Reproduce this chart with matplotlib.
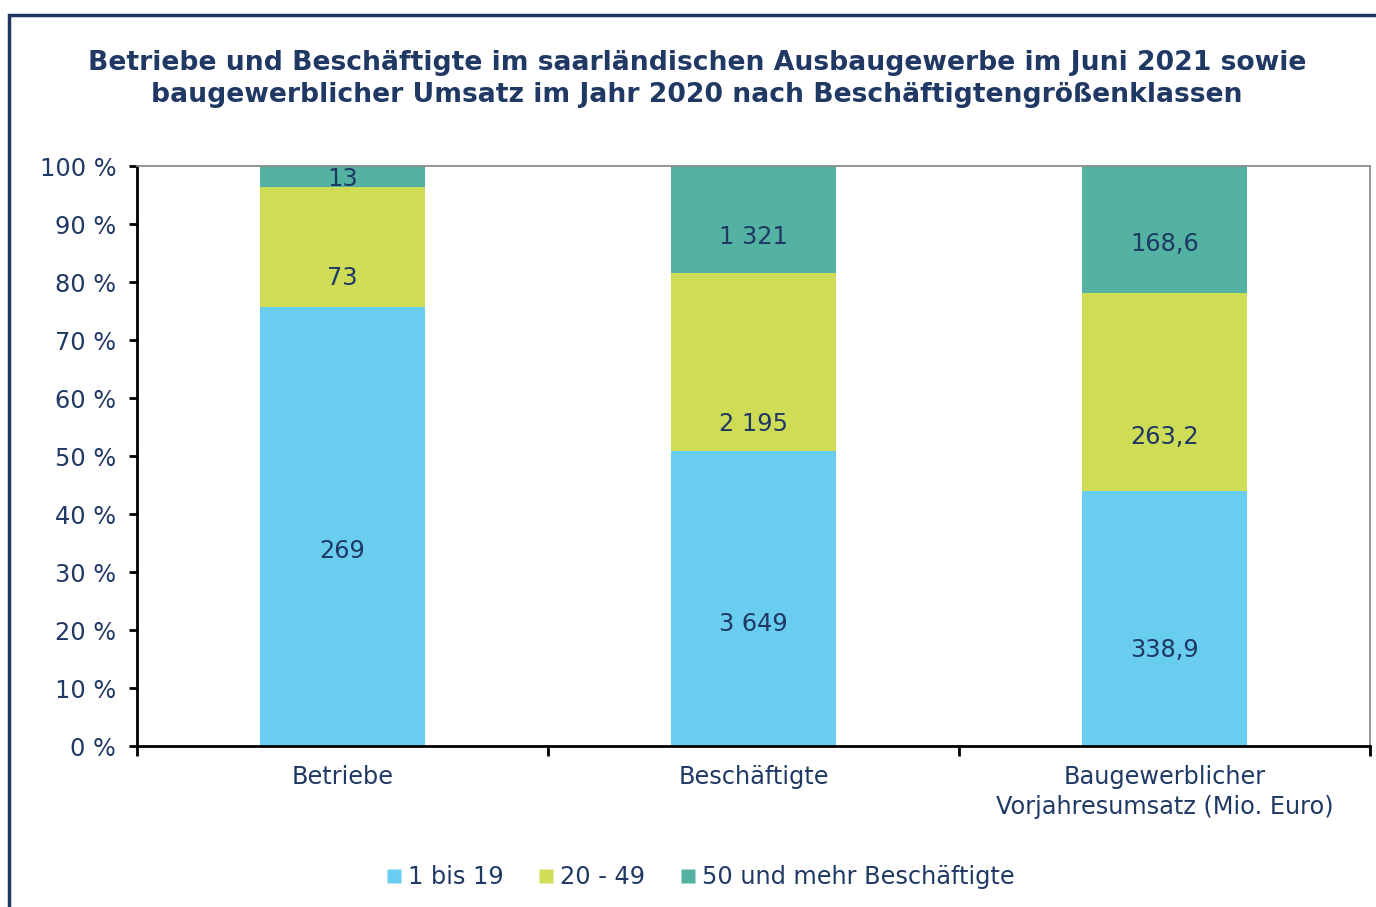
import matplotlib.pyplot as plt
import numpy as np
from matplotlib.lines import Line2D
from matplotlib.patches import Rectangle

categories = ['Betriebe', 'Beschäftigte', 'Baugewerblicher\nVorjahresumsatz (Mio. Euro)']
series_names = ['1 bis 19', '20 - 49', '50 und mehr Beschäftigte']
klein = [269, 3649, 338.9]
mittel = [73, 2195, 263.2]
gross = [13, 1321, 168.6]
value_labels = [['269', '3 649', '338,9'],
                ['73', '2 195', '263,2'],
                ['13', '1 321', '168,6']]

# label heights in % as placed in the original chart
label_y = [[33.6, 21.1, 16.6],
           [80.7, 55.5, 53.3],
           [97.8, 87.8, 86.6]]

colors = ['#69CDF0', '#CEDC56', '#53B2A1']
navy = '#1F3864'
fs = 17.3

plt.rcParams['font.family'] = ['DejaVu Sans']

fig = plt.figure(figsize=(13.76, 9.07), dpi=100)
ax = fig.add_axes([137 / 1376, 1 - 746 / 907, (1370 - 137) / 1376, (746 - 166) / 907])

data = np.array([klein, mittel, gross], dtype=float)
shares = data / data.sum(axis=0) * 100
x = np.arange(len(categories))
bottom = np.zeros(len(categories))
for i in range(3):
    ax.bar(x, shares[i], 0.4, bottom=bottom, color=colors[i], edgecolor='none', zorder=2)
    for j in range(len(categories)):
        ax.text(x[j], label_y[i][j], value_labels[i][j], ha='center', va='center',
                fontsize=fs, color=navy, zorder=3)
    bottom += shares[i]

ax.set_xlim(-0.5, len(categories) - 0.5)
ax.set_ylim(0, 100)
ax.set_yticks(np.arange(0, 101, 10))
ax.set_yticklabels([f'{v} %' for v in range(0, 101, 10)], fontsize=fs, color=navy)
ax.set_xticks(np.arange(-0.5, len(categories), 1))
ax.set_xticklabels([])
ax.tick_params(axis='y', length=6, width=2, direction='out', pad=9)
ax.tick_params(axis='x', length=7, width=2, direction='out')
for j, c in enumerate(categories):
    ax.text(x[j], -3.3, c, ha='center', va='top', fontsize=fs, color=navy,
            linespacing=1.3)

for s in ['left', 'bottom']:
    ax.spines[s].set_linewidth(2)
    ax.spines[s].set_color('black')
for s in ['top', 'right']:
    ax.spines[s].set_linewidth(1.3)
    ax.spines[s].set_color('#8c8c8c')

fig.text(697 / 1376, 1 - 79 / 907,
         'Betriebe und Beschäftigte im saarländischen Ausbaugewerbe im Juni 2021 sowie\n'
         'baugewerblicher Umsatz im Jahr 2020 nach Beschäftigtengrößenklassen',
         ha='center', va='center', fontsize=19.2, fontweight='bold', color=navy,
         linespacing=1.3)

handles = [Line2D([], [], marker='s', linestyle='none', markersize=9.5,
                  markerfacecolor=c, markeredgecolor='none') for c in colors]
leg = fig.legend(handles, series_names, loc='center', bbox_to_anchor=(701 / 1376, 1 - 877 / 907),
                 ncol=3, frameon=False, fontsize=fs, handlelength=0.55, handletextpad=0.3,
                 columnspacing=1.5)
for t in leg.get_texts():
    t.set_color(navy)

fig.patches.append(Rectangle((9 / 1376, -0.1), 1.2, 1 - 15 / 907 + 0.1, transform=fig.transFigure,
                             fill=False, edgecolor='#1F3864', linewidth=2.5))

fig.savefig('out.png', dpi=100)
